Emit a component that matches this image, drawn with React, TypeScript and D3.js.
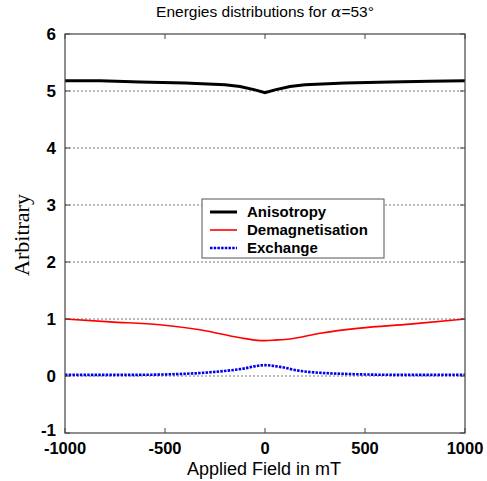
import React from "react";
import * as d3 from "d3";

const xTicks = [-1000, -500, 0, 500, 1000];
const yTicks = [-1, 0, 1, 2, 3, 4, 5, 6];
const gridValues = [0, 1, 2, 3, 4, 5];

const anisoX = [-1000, -825, -625, -400, -200, -125, -50, 0, 50, 125, 200, 400, 625, 825, 1000];
const anisoY = [5.18, 5.18, 5.16, 5.14, 5.11, 5.08, 5.02, 4.97, 5.02, 5.08, 5.11, 5.14, 5.16, 5.17, 5.18];

const demagX = [-1000, -775, -525, -325, -125, -50, 0, 50, 125, 275, 475, 725, 1000];
const demagY = [1.0, 0.95, 0.9, 0.81, 0.67, 0.63, 0.62, 0.63, 0.65, 0.75, 0.84, 0.91, 1.0];

const exchX = [-1000, -675, -475, -275, -125, 0, 75, 175, 375, 675, 1000];
const exchY = [0.02, 0.02, 0.03, 0.065, 0.12, 0.19, 0.16, 0.09, 0.04, 0.02, 0.02];

const legendLabels = ["Anisotropy", "Demagnetisation", "Exchange"];

export default function App() {
  const W = 487, H = 481;
  const L = 65, R = 465, T = 34, B = 433;
  const x = d3.scaleLinear().domain([-1000, 1000]).range([L, R]);
  const y = d3.scaleLinear().domain([-1, 6]).range([B, T]);

  const mk = (xs: number[], ys: number[], curve: any) =>
    d3.line<number>().x((_, i) => x(xs[i])).y((d) => y(d)).curve(curve)(ys) || "";

  const series = [
    { d: mk(anisoX, anisoY, d3.curveLinear), color: "#000", w: 3, dash: undefined as string | undefined },
    { d: mk(demagX, demagY, d3.curveMonotoneX), color: "#ff0000", w: 1.6, dash: undefined },
    { d: mk(exchX, exchY, d3.curveMonotoneX), color: "#0000ee", w: 2.6, dash: "2.5,1.2" },
  ];

  const axisColor = "#444";
  const font = "Arial, 'Liberation Sans', sans-serif";

  return (
    <svg width={W} height={H} style={{ position: "absolute", left: 0, top: 0, background: "#fff" }}>
      <rect x={0} y={0} width={W} height={H} fill="#fff" />
      {gridValues.map((v) => (
        <line key={"g" + v} x1={L} x2={R} y1={y(v)} y2={y(v)} stroke="#777" strokeWidth={1} strokeDasharray="2,2" />
      ))}
      {series.map((s, i) => (
        <path key={"s" + i} d={s.d} fill="none" stroke={s.color} strokeWidth={s.w} strokeDasharray={s.dash} />
      ))}
      <rect x={L} y={T} width={R - L} height={B - T} fill="none" stroke={axisColor} strokeWidth={1.2} />
      {xTicks.map((t) => (
        <g key={"xt" + t}>
          <line x1={x(t)} x2={x(t)} y1={B} y2={B - 5} stroke={axisColor} />
          <line x1={x(t)} x2={x(t)} y1={T} y2={T + 5} stroke={axisColor} />
          <text x={x(t)} y={B + 21} textAnchor="middle" fontFamily={font} fontWeight="bold" fontSize={16.5}>
            {t}
          </text>
        </g>
      ))}
      {yTicks.map((t) => (
        <g key={"yt" + t}>
          <line x1={L} x2={L + 5} y1={y(t)} y2={y(t)} stroke={axisColor} />
          <line x1={R} x2={R - 5} y1={y(t)} y2={y(t)} stroke={axisColor} />
          <text x={L - 9} y={y(t) + (t === -1 ? 3 : 6)} textAnchor="end" fontFamily={font} fontWeight="bold" fontSize={17}>
            {t}
          </text>
        </g>
      ))}
      <text x={265} y={17} textAnchor="middle" fontFamily={font} fontSize={15.5}>
        Energies distributions for <tspan fontFamily="'DejaVu Serif', serif" fontStyle="italic">α</tspan>=53°
      </text>
      <text x={264} y={475} textAnchor="middle" fontFamily={font} fontSize={18}>
        Applied Field in mT
      </text>
      <text
        transform="translate(29,235) rotate(-90)"
        textAnchor="middle"
        fontFamily="'Liberation Serif', 'Times New Roman', serif"
        fontSize={22}
      >
        Arbitrary
      </text>
      <g>
        <rect x={202} y={199} width={182} height={59} fill="#fff" stroke="#555" strokeWidth={1} />
        {legendLabels.map((lab, i) => {
          const s = series[i];
          const cy = 212 + i * 18;
          return (
            <g key={"lg" + i}>
              <line x1={210} x2={237} y1={cy} y2={cy} stroke={s.color} strokeWidth={s.w} strokeDasharray={s.dash} />
              <text x={247} y={cy + 5} fontFamily={font} fontWeight="bold" fontSize={15}>
                {lab}
              </text>
            </g>
          );
        })}
      </g>
    </svg>
  );
}
